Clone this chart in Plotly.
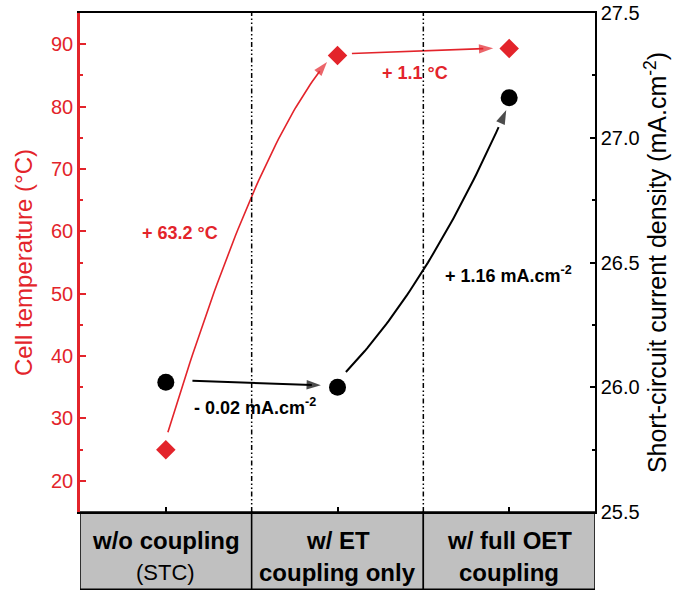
import numpy as np
import plotly.graph_objects as go

# ---------------- data ----------------
categories = ["w/o coupling", "w/ ET", "w/ full OET"]
category_second_line = ["(STC)", "coupling only", "coupling"]
second_line_bold = [False, True, True]
cell_temperature = [25.0, 88.2, 89.3]          # °C (left axis)
jsc = [26.02, 26.00, 27.16]                     # mA.cm-2 (right axis)
temp_ticks = [20, 30, 40, 50, 60, 70, 80, 90]
jsc_ticks = [25.5, 26.0, 26.5, 27.0, 27.5]
delta_labels_temp = ["+ 63.2 °C", "+ 1.1 °C"]
delta_labels_jsc = ["- 0.02 mA.cm<sup>-2</sup>", "+ 1.16 mA.cm<sup>-2</sup>"]

# ---------------- styling / layout helpers ----------------
RED = "#E3242B"
FONT = "Liberation Sans, Arial, sans-serif"
x_pos = list(range(len(categories)))

# arrow geometry (x in category index units, y in the axis' own units)
red_curve = ((0.012, 27.8), (0.516, 73.2), (0.939, 87.14))
red_straight = ((1.084, 88.5), (1.907, 89.34))
black_straight = ((0.155, 26.026), (0.903, 26.008))
black_curve = ((1.049, 26.061), (1.539, 26.415), (1.983, 27.111))
temp_label_pos = [(0.081, 59.7), (1.449, 85.4)]
jsc_label_pos = [(0.52, 25.921), (1.994, 26.45)]


def bezier(p0, c, p2, t_end=1.0, n=60):
    t = np.linspace(0, t_end, n)
    x = (1 - t) ** 2 * p0[0] + 2 * t * (1 - t) * c[0] + t ** 2 * p2[0]
    y = (1 - t) ** 2 * p0[1] + 2 * t * (1 - t) * c[1] + t ** 2 * p2[1]
    return x, y


fig = go.Figure()


def add_arrow(xs, ys, tip_prev, tip, color, width, yaxis, head=15):
    fig.add_trace(go.Scatter(x=xs, y=ys, mode="lines", yaxis=yaxis,
                             line=dict(color=color, width=width),
                             hoverinfo="skip", showlegend=False))
    fig.add_trace(go.Scatter(x=[tip_prev[0], tip[0]], y=[tip_prev[1], tip[1]],
                             mode="markers", yaxis=yaxis,
                             marker=dict(symbol="arrow", size=[0, head], color=color,
                                         angleref="previous", line=dict(width=0)),
                             hoverinfo="skip", showlegend=False))


# red curved arrow
bx, by = bezier(*red_curve, t_end=0.95)
fx, fy = bezier(*red_curve, t_end=1.0, n=200)
add_arrow(bx, by, (fx[-3], fy[-3]), (fx[-1], fy[-1]), RED, 1.6, "y")
# red straight arrow
p0, p1 = red_straight
add_arrow([p0[0], p0[0] + 0.93 * (p1[0] - p0[0])], [p0[1], p0[1] + 0.93 * (p1[1] - p0[1])],
          p0, p1, RED, 1.6, "y")
# black straight arrow
p0, p1 = black_straight
add_arrow([p0[0], p0[0] + 0.93 * (p1[0] - p0[0])], [p0[1], p0[1] + 0.93 * (p1[1] - p0[1])],
          p0, p1, "black", 2, "y2")
# black curved arrow
bx, by = bezier(*black_curve, t_end=0.95)
fx, fy = bezier(*black_curve, t_end=1.0, n=200)
add_arrow(bx, by, (fx[-3], fy[-3]), (fx[-1], fy[-1]), "black", 2, "y2")

# data markers
fig.add_trace(go.Scatter(x=x_pos, y=cell_temperature, mode="markers", yaxis="y",
                         marker=dict(symbol="diamond", size=15, color=RED, line=dict(width=0)),
                         showlegend=False, name="Cell temperature"))
fig.add_trace(go.Scatter(x=x_pos, y=jsc, mode="markers", yaxis="y2",
                         marker=dict(symbol="circle", size=17, color="black", line=dict(width=0)),
                         showlegend=False, name="Jsc"))

shapes = []
# vertical separators
for i in range(len(categories) - 1):
    shapes.append(dict(type="line", xref="x", yref="paper", x0=i + 0.5, x1=i + 0.5,
                       y0=0, y1=1, line=dict(color="black", width=1.5,
                                             dash="5px,2.5px,1.5px,2.5px,1.5px,2.5px")))
# gray category boxes
for i in range(len(categories)):
    shapes.append(dict(type="rect", xref="x", yref="paper", x0=i - 0.5, x1=i + 0.5,
                       y0=-0.155, y1=0, fillcolor="#C0C0C0",
                       line=dict(color="black", width=1.5), layer="below"))

annotations = []
for i, (l1, l2, b) in enumerate(zip(categories, category_second_line, second_line_bold)):
    annotations.append(dict(x=i, y=-0.058, xref="x", yref="paper", showarrow=False,
                            xanchor="center", yanchor="middle",
                            text=f"<b>{l1}</b>", font=dict(size=24, color="black", family=FONT)))
    annotations.append(dict(x=i, y=-0.121, xref="x", yref="paper", showarrow=False,
                            xanchor="center", yanchor="middle",
                            text=f"<b>{l2}</b>" if b else l2,
                            font=dict(size=24 if b else 22, color="black", family=FONT)))
for (px, py), txt in zip(temp_label_pos, delta_labels_temp):
    annotations.append(dict(x=px, y=py, xref="x", yref="y", showarrow=False,
                            xanchor="center", yanchor="middle",
                            text=f"<b>{txt}</b>", font=dict(size=18, color=RED, family=FONT)))
for (px, py), txt in zip(jsc_label_pos, delta_labels_jsc):
    annotations.append(dict(x=px, y=py, xref="x", yref="y2", showarrow=False,
                            xanchor="center", yanchor="middle",
                            text=f"<b>{txt}</b>", font=dict(size=18, color="black", family=FONT)))

fig.update_layout(
    width=673, height=592,
    margin=dict(l=80, r=78, t=13, b=80),
    paper_bgcolor="white", plot_bgcolor="white",
    font=dict(family=FONT, size=20),
    showlegend=False,
    shapes=shapes, annotations=annotations,
    xaxis=dict(range=[-0.5, 2.5], tickvals=x_pos, showticklabels=False, automargin=False,
               ticks="inside", ticklen=5, tickwidth=1.5, tickcolor="black",
               showline=True, linecolor="black", linewidth=1.5, mirror=True,
               showgrid=False, zeroline=False),
    yaxis=dict(range=[15, 95], tickvals=temp_ticks, ticks="inside", ticklen=6, tickwidth=2,
               automargin=False,
               tickcolor=RED, showline=True, linecolor=RED, linewidth=2.5,
               tickfont=dict(color=RED, size=20, family=FONT),
               title=dict(text="Cell temperature (°C)", font=dict(color=RED, size=24, family=FONT),
                          standoff=12),
               minor=dict(dtick=5, ticks="inside", ticklen=3, tickwidth=2, tickcolor=RED),
               showgrid=False, zeroline=False),
    yaxis2=dict(range=[25.5, 27.5], tickvals=jsc_ticks, tickformat=".1f", overlaying="y",
                side="right", ticks="inside", ticklen=5, tickwidth=1.5, tickcolor="black",
                automargin=False,
                showline=True, linecolor="black", linewidth=1.5,
                tickfont=dict(color="black", size=20, family=FONT),
                title=dict(text="Short-circuit current density (mA.cm<sup>-2</sup>)",
                           font=dict(color="black", size=25, family=FONT), standoff=6),
                minor=dict(dtick=0.25, ticks="inside", ticklen=3, tickwidth=1.5, tickcolor="black"),
                showgrid=False, zeroline=False),
)

fig.write_html("out.html")
